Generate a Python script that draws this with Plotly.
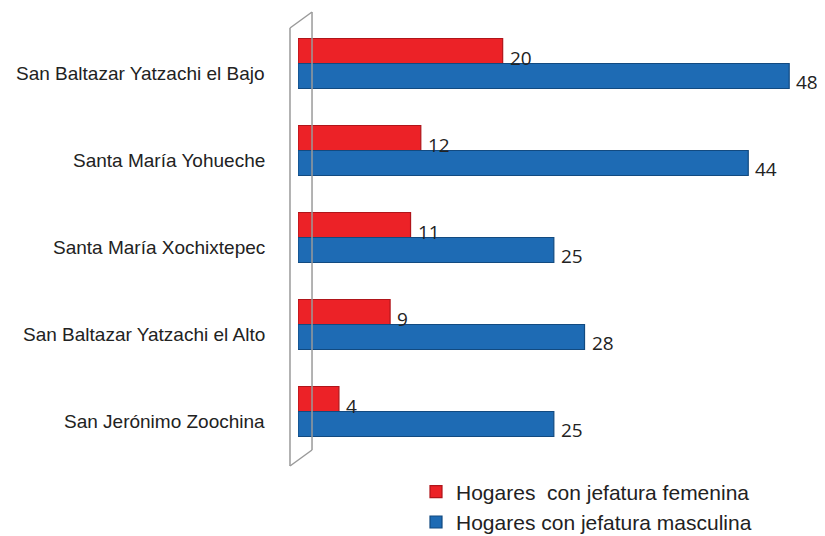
import plotly.graph_objects as go

categories = [
    "San Baltazar Yatzachi el Bajo",
    "Santa María Yohueche",
    "Santa María Xochixtepec",
    "San Baltazar Yatzachi el Alto",
    "San Jerónimo Zoochina",
]
femenina = [20, 12, 11, 9, 4]
masculina = [48, 44, 25, 28, 25]
series_names = ["Hogares  con jefatura femenina", "Hogares con jefatura masculina"]

RED = "#EC2227"
BLUE = "#1E6BB4"
LABEL_FONT = dict(family="Open Sans", size=19, color="#222222")

fig = go.Figure()
fig.add_trace(go.Bar(
    y=categories, x=femenina, orientation="h", name=series_names[0],
    marker=dict(color=RED, line=dict(color="#B0151A", width=1.2)),
))
fig.add_trace(go.Bar(
    y=categories, x=masculina, orientation="h", name=series_names[1],
    marker=dict(color=BLUE, line=dict(color="#124A80", width=1.2)),
))

# value labels (slightly below bar centre, as in the original)
for c, v in zip(categories, femenina):
    fig.add_annotation(x=v, y=c, xref="x", yref="y", text=str(v), showarrow=False,
                       xanchor="left", xshift=5, yshift=6, font=LABEL_FONT)
for c, v in zip(categories, masculina):
    fig.add_annotation(x=v, y=c, xref="x", yref="y", text=str(v), showarrow=False,
                       xanchor="left", xshift=5, yshift=-18, font=LABEL_FONT)

# category labels
for c in categories:
    fig.add_annotation(
        x=0, xref="paper", y=c, yref="y", xanchor="right", xshift=-31, yshift=-10,
        text=c, showarrow=False,
        font=dict(family="Liberation Sans, Arial", size=19, color="#222222"),
    )

# 3D wall outline
wall = dict(color="#9A9A9A", width=1.5)
xf, xb = -0.0152, 0.0266
yft, ybt, yfb, ybb = 0.9816, 1.0184, -0.0253, 0.0115
shapes = [
    dict(type="line", xref="paper", yref="paper", x0=xf, x1=xf, y0=yfb, y1=yft, line=wall),
    dict(type="line", xref="paper", yref="paper", x0=xb, x1=xb, y0=ybb, y1=ybt, line=wall),
    dict(type="line", xref="paper", yref="paper", x0=xf, x1=xb, y0=yft, y1=ybt, line=wall),
    dict(type="line", xref="paper", yref="paper", x0=xf, x1=xb, y0=yfb, y1=ybb, line=wall),
]

# the page places the figure 8px from the top-left corner, so the figure is
# sized 8px smaller and every margin is measured 8px less
fig.update_layout(
    width=817, height=528,
    margin=dict(l=290, r=0, t=12, b=81, autoexpand=False),
    paper_bgcolor="white", plot_bgcolor="white",
    barmode="group", bargap=0.425, bargroupgap=0.0,
    xaxis=dict(range=[0, 51.5], visible=False),
    yaxis=dict(autorange="reversed", showticklabels=False, showgrid=False,
               zeroline=False, showline=False, ticks=""),
    shapes=shapes,
    showlegend=True,
    legend=dict(
        x=(408 - 290) / 527, y=-0.038, xanchor="left", yanchor="top",
        orientation="v", itemwidth=30, traceorder="normal", tracegroupgap=0,
        font=dict(family="Liberation Sans, Arial", size=21, color="#222222"),
        bgcolor="rgba(0,0,0,0)",
    ),
)

fig.write_html("out.html")
